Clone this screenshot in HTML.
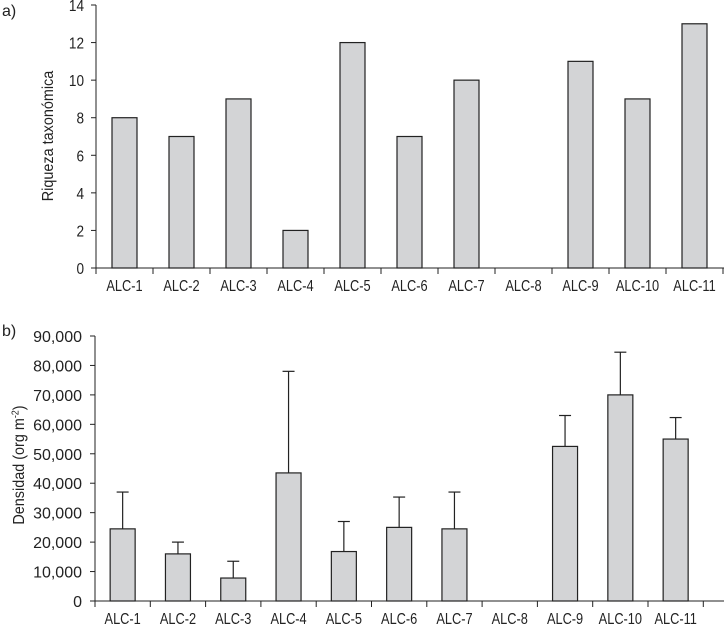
<!DOCTYPE html>
<html><head><meta charset="utf-8"><style>
body{margin:0;background:#fff}
svg text{font-family:"Liberation Sans",sans-serif;fill:#222}
</style></head><body>
<svg id="c" width="727" height="627" xmlns="http://www.w3.org/2000/svg"></svg>
<script>
const categories=["ALC-1","ALC-2","ALC-3","ALC-4","ALC-5","ALC-6","ALC-7","ALC-8","ALC-9","ALC-10","ALC-11"];
const richness=[8,7,9,2,12,7,10,0,11,9,13];
const richTicks=[0,2,4,6,8,10,12,14];
const density=[24500,16000,7800,43500,16800,25000,24500,0,52500,70000,55000];
const densityErr=[12500,4000,5700,34500,10200,10300,12500,0,10500,14500,7300];
const densTicks=[0,10000,20000,30000,40000,50000,60000,70000,80000,90000];
const NS="http://www.w3.org/2000/svg";
const svg=document.getElementById('c');
function mk(t,a,txt){const e=document.createElementNS(NS,t);for(const k in a)e.setAttribute(k,a[k]);if(txt!=null)e.textContent=txt;svg.appendChild(e);return e;}
function ntext(x,y,anchor,txt,sx){return mk('text',{transform:`translate(${x},${y}) scale(${sx},1)`,x:0,y:0,'text-anchor':anchor,'font-size':16},txt);}
function panel(o){
  const y=v=>o.y0-(v/o.max)*(o.y0-o.yTop);
  const bx=i=>o.x0+i*o.band;
  let e=mk('line',{x1:o.x0,y1:o.yTop,x2:o.x0,y2:o.y0,stroke:'#222','stroke-width':1});
  
  e=mk('line',{x1:o.x0,y1:o.y0,x2:o.xEnd,y2:o.y0,stroke:'#222','stroke-width':1});
  
  o.ticks.forEach(t=>{
    mk('line',{x1:o.x0-5,y1:y(t),x2:o.x0,y2:y(t),stroke:'#222'});
    const tx=ntext(o.x0-o.tickOff,y(t)+6,'end',o.fmt(t),o.tsx);
    
    
  });
  for(let i=0;i<=categories.length;i++){mk('line',{x1:bx(i),y1:o.y0,x2:bx(i),y2:o.y0+6,stroke:'#222'});}
  categories.forEach((c,i)=>{
    const tx=ntext(bx(i)+o.band/2,o.y0+23,'middle',c,0.8);
    
    
    const v=o.vals[i];
    if(v>0){
      const cx=bx(i)+o.band/2;
      const r=mk('rect',{x:cx-o.bw/2,y:y(v),width:o.bw,height:o.y0-y(v),fill:'#d3d4d6',stroke:'#222','stroke-width':1.2});
      
      
      if(o.err){
        const top=y(v+o.err[i]);
        const l=mk('line',{x1:cx,y1:y(v),x2:cx,y2:top,stroke:'#222','stroke-width':1.2});
        
        
        mk('line',{x1:cx-6,y1:top,x2:cx+6,y2:top,stroke:'#222','stroke-width':1.2});
      }
    }
  });
  const ax=mk('text',{transform:`translate(${o.titleX},${o.titleY}) rotate(-90) scale(0.9,1)`,'text-anchor':'middle','font-size':16},'');
  
  
  return ax;
}
const t1=panel({id:'richness',x0:96,xEnd:724,band:57,bw:25,y0:268,yTop:5,max:14,ticks:richTicks,vals:richness,fmt:v=>String(v),titleX:53,titleY:136,tickOff:12,tsx:0.85});
t1.textContent='Riqueza taxonómica';
const t2=panel({id:'density',x0:95,xEnd:724,band:55.3,bw:25,y0:601,yTop:336,max:90000,ticks:densTicks,vals:density,err:densityErr,fmt:v=>v.toLocaleString('en-US'),titleX:24,titleY:465,tickOff:13,tsx:1.0});
t2.innerHTML='Densidad (org m<tspan baseline-shift="super" font-size="10">-2</tspan>)';
let p=mk('text',{x:2,y:16,'font-size':16},'a)');


p=mk('text',{x:2,y:336,'font-size':16},'b)');


</script>
</body></html>
